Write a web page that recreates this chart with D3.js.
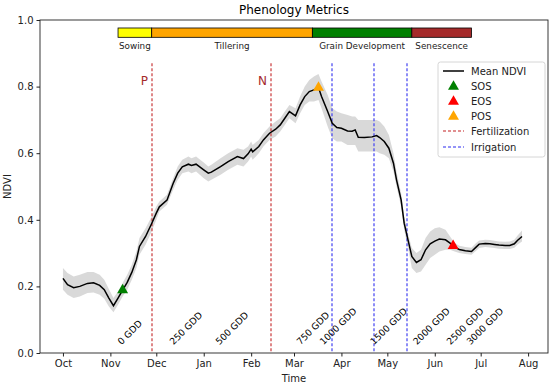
<!DOCTYPE html>
<html>
<head>
<meta charset="utf-8">
<script src="https://cdn.jsdelivr.net/npm/d3@7"></script>
<style>
body { margin: 0; background: #fff; }
svg text { font-family: "DejaVu Sans", sans-serif; }
</style>
</head>
<body>
<div id="chart"></div>
<script>
// NDVI series
var dates = ["2022-10-01","2022-10-04","2022-10-08","2022-10-12","2022-10-17","2022-10-21","2022-10-25","2022-10-28","2022-10-31","2022-11-03",
  "2022-11-06","2022-11-09","2022-11-12","2022-11-15","2022-11-18","2022-11-20","2022-11-24","2022-11-28","2022-12-01","2022-12-03",
  "2022-12-08","2022-12-12","2022-12-15","2022-12-18","2022-12-22","2022-12-24","2022-12-27","2023-01-01","2023-01-04","2023-01-06",
  "2023-01-12","2023-01-17","2023-01-23","2023-01-27","2023-01-30","2023-02-01","2023-02-02","2023-02-06","2023-02-09","2023-02-13",
  "2023-02-17","2023-02-20","2023-02-23","2023-02-26","2023-03-02","2023-03-05","2023-03-08","2023-03-11","2023-03-14","2023-03-17",
  "2023-03-19","2023-03-23","2023-03-26","2023-03-29","2023-04-01","2023-04-05","2023-04-08","2023-04-10","2023-04-12","2023-04-16",
  "2023-04-21","2023-04-24","2023-04-26","2023-04-29","2023-05-02","2023-05-05","2023-05-07","2023-05-10","2023-05-12","2023-05-15",
  "2023-05-17","2023-05-20","2023-05-23","2023-05-26","2023-05-29","2023-06-01","2023-06-04","2023-06-08","2023-06-11","2023-06-14",
  "2023-06-17","2023-06-21","2023-06-25","2023-06-28","2023-06-30","2023-07-04","2023-07-07","2023-07-10","2023-07-13","2023-07-17",
  "2023-07-20","2023-07-23","2023-07-25","2023-07-28"];
var ndviMean = [0.224,0.205,0.196,0.200,0.209,0.211,0.203,0.190,0.165,0.142,
  0.165,0.189,0.212,0.242,0.280,0.320,0.350,0.389,0.420,0.439,
  0.459,0.509,0.540,0.559,0.567,0.563,0.567,0.550,0.540,0.543,
  0.560,0.575,0.590,0.584,0.598,0.612,0.604,0.620,0.640,0.660,
  0.672,0.685,0.705,0.725,0.712,0.745,0.770,0.785,0.790,0.797,
  0.770,0.725,0.690,0.677,0.675,0.667,0.666,0.670,0.648,0.647,
  0.649,0.653,0.647,0.635,0.615,0.570,0.520,0.460,0.390,0.330,
  0.290,0.272,0.280,0.310,0.328,0.336,0.342,0.340,0.330,0.318,
  0.311,0.307,0.305,0.318,0.327,0.329,0.328,0.326,0.324,0.323,
  0.323,0.328,0.338,0.350];
var ndviLow = [0.190,0.175,0.165,0.170,0.180,0.182,0.175,0.163,0.140,0.122,
  0.145,0.170,0.190,0.220,0.255,0.295,0.325,0.365,0.400,0.425,
  0.445,0.490,0.520,0.540,0.545,0.540,0.545,0.525,0.515,0.520,
  0.535,0.550,0.565,0.560,0.575,0.590,0.580,0.600,0.620,0.640,
  0.650,0.665,0.685,0.705,0.690,0.720,0.745,0.755,0.755,0.760,
  0.735,0.680,0.645,0.635,0.635,0.625,0.625,0.625,0.605,0.605,
  0.605,0.605,0.600,0.595,0.585,0.545,0.500,0.440,0.370,0.305,
  0.255,0.240,0.245,0.265,0.285,0.295,0.305,0.310,0.310,0.305,
  0.300,0.297,0.295,0.307,0.315,0.318,0.317,0.315,0.313,0.312,
  0.312,0.316,0.325,0.335];
var ndviHigh = [0.255,0.240,0.230,0.235,0.243,0.243,0.235,0.220,0.192,0.165,
  0.185,0.210,0.235,0.265,0.305,0.345,0.375,0.410,0.440,0.455,
  0.475,0.525,0.560,0.580,0.590,0.585,0.590,0.572,0.560,0.565,
  0.585,0.600,0.615,0.610,0.620,0.635,0.625,0.640,0.660,0.680,
  0.695,0.705,0.725,0.745,0.735,0.770,0.800,0.820,0.830,0.838,
  0.815,0.775,0.735,0.725,0.720,0.715,0.710,0.710,0.700,0.700,
  0.700,0.700,0.695,0.680,0.655,0.600,0.545,0.480,0.410,0.350,
  0.315,0.300,0.310,0.345,0.365,0.375,0.378,0.370,0.350,0.330,
  0.322,0.318,0.316,0.330,0.338,0.340,0.339,0.337,0.335,0.334,
  0.335,0.340,0.352,0.368];

// phenology markers
var markerNames = ["SOS", "EOS", "POS"];
var markerDates = ["2022-11-09", "2023-06-13", "2023-03-17"];
var markerValues = [0.189, 0.322, 0.797];

// management events
var fertDates = ["2022-11-28", "2023-02-14"];
var fertLabels = ["P", "N"];
var irrigDates = ["2023-03-26", "2023-04-22", "2023-05-14"];

// growing degree days
var gddDates = ["2022-11-07","2022-12-11","2023-01-10","2023-03-04","2023-03-19","2023-04-21","2023-05-19","2023-06-10","2023-06-23"];
var gddLabels = ["0 GDD","250 GDD","500 GDD","750 GDD","1000 GDD","1500 GDD","2000 GDD","2500 GDD","3000 GDD"];

// growth stages
var phaseNames = ["Sowing", "Tillering", "Grain Development", "Senescence"];
var phaseStarts = ["2022-11-06", "2022-11-28", "2023-03-13", "2023-05-17"];
var phaseEnds = ["2022-11-28", "2023-03-13", "2023-05-17", "2023-06-25"];

var yTicks = [0.0, 0.2, 0.4, 0.6, 0.8, 1.0];

// styles
var phaseColors = ["#ffff00", "#ffa500", "#008000", "#a52a2a"];
var markerColors = ["#008000", "#ff0000", "#ffa500"];
var fertColor = "#c8383a";
var irrigColor = "#4040f0";

var width = 550;
var height = 386;
var plotLeft = 40, plotRight = 548, plotTop = 20, plotBottom = 353;

var parse = d3.timeParse("%Y-%m-%d");

var svg = d3.select("#chart")
  .append("svg")
  .attr("width", width)
  .attr("height", height);

var xScale = d3.scaleTime()
  .domain([new Date(2022, 8, 16), new Date(2023, 7, 14)])
  .range([plotLeft, plotRight]);
var yScale = d3.scaleLinear()
  .domain([0, 1])
  .range([plotBottom, plotTop]);

var series = dates.map(function(d, i) {
  return { date: parse(d), mean: ndviMean[i], lo: ndviLow[i], hi: ndviHigh[i] };
});

// shaded band
var area = d3.area()
  .x(function(d) { return xScale(d.date); })
  .y0(function(d) { return yScale(d.lo); })
  .y1(function(d) { return yScale(d.hi); });

svg.append("path")
  .datum(series)
  .attr("d", area)
  .attr("fill", "#808080")
  .attr("fill-opacity", 0.3);

// vertical event lines (wide enough to span two pixel columns)
var vTop = yScale(0.87);
fertDates.forEach(function(d, i) {
  var x = Math.round(xScale(parse(d)));
  svg.append("line")
    .attr("x1", x).attr("x2", x)
    .attr("y1", vTop).attr("y2", plotBottom)
    .attr("stroke", fertColor)
    .attr("stroke-opacity", 0.75)
    .attr("stroke-width", 1.6)
    .attr("stroke-dasharray", "3,2");
  svg.append("text")
    .attr("x", x - 4)
    .attr("y", yScale(0.805))
    .attr("text-anchor", "end")
    .attr("font-size", 12)
    .attr("fill", "#a52a2a")
    .text(fertLabels[i]);
});
irrigDates.forEach(function(d) {
  var x = Math.round(xScale(parse(d)));
  svg.append("line")
    .attr("x1", x).attr("x2", x)
    .attr("y1", vTop).attr("y2", plotBottom)
    .attr("stroke", irrigColor)
    .attr("stroke-opacity", 0.75)
    .attr("stroke-width", 1.6)
    .attr("stroke-dasharray", "3,2");
});

// mean line
var line = d3.line()
  .x(function(d) { return xScale(d.date); })
  .y(function(d) { return yScale(d.mean); });

svg.append("path")
  .datum(series)
  .attr("d", line)
  .attr("fill", "none")
  .attr("stroke", "#000")
  .attr("stroke-width", 1.5);

// markers
var tri = d3.symbol().type(d3.symbolTriangle).size(52);
markerNames.forEach(function(n, i) {
  svg.append("path")
    .attr("d", tri)
    .attr("transform", "translate(" + xScale(parse(markerDates[i])) + "," + yScale(markerValues[i]) + ")")
    .attr("fill", markerColors[i]);
});

// GDD labels
gddDates.forEach(function(d, i) {
  var x = xScale(parse(d));
  var y = yScale(0.02) - 1;
  svg.append("text")
    .attr("transform", "translate(" + (x + 2) + "," + y + ") rotate(-45)")
    .attr("font-size", 9.2)
    .attr("fill", "#000")
    .text(gddLabels[i]);
});

// growth stage bar
var barTop = yScale(0.976), barBot = yScale(0.948);
phaseNames.forEach(function(n, i) {
  var x0 = xScale(parse(phaseStarts[i]));
  var x1 = xScale(parse(phaseEnds[i]));
  svg.append("rect")
    .attr("x", x0).attr("y", barTop)
    .attr("width", x1 - x0).attr("height", barBot - barTop)
    .attr("fill", phaseColors[i])
    .attr("stroke", "#000")
    .attr("stroke-width", 0.8);
  svg.append("text")
    .attr("x", (x0 + x1) / 2)
    .attr("y", barBot + 12)
    .attr("text-anchor", "middle")
    .attr("font-size", 8.8)
    .attr("fill", "#222")
    .text(n);
});

// axes
var xAxis = d3.axisBottom(xScale)
  .ticks(d3.timeMonth.every(1))
  .tickFormat(d3.timeFormat("%b"))
  .tickSize(3.5)
  .tickPadding(3);
var yAxis = d3.axisLeft(yScale)
  .tickValues(yTicks)
  .tickFormat(d3.format(".1f"))
  .tickSize(3.5)
  .tickPadding(3);

var gx = svg.append("g")
  .attr("transform", "translate(0," + plotBottom + ")")
  .call(xAxis);
var gy = svg.append("g")
  .attr("transform", "translate(" + plotLeft + ",0)")
  .call(yAxis);
[gx, gy].forEach(function(g) {
  g.select(".domain").remove();
  g.selectAll("text").attr("font-size", 10).attr("font-family", "DejaVu Sans").attr("fill", "#222");
  g.selectAll("line").attr("stroke", "#222");
});

svg.append("rect")
  .attr("x", plotLeft).attr("y", plotTop)
  .attr("width", plotRight - plotLeft).attr("height", plotBottom - plotTop)
  .attr("fill", "none")
  .attr("stroke", "#222")
  .attr("stroke-width", 0.9);

// titles
svg.append("text")
  .attr("x", (plotLeft + plotRight) / 2)
  .attr("y", 14)
  .attr("text-anchor", "middle")
  .attr("font-size", 12)
  .attr("fill", "#000")
  .text("Phenology Metrics");
svg.append("text")
  .attr("x", (plotLeft + plotRight) / 2)
  .attr("y", 382)
  .attr("text-anchor", "middle")
  .attr("font-size", 10)
  .attr("fill", "#222")
  .text("Time");
svg.append("text")
  .attr("transform", "translate(11," + (plotTop + plotBottom) / 2 + ") rotate(-90)")
  .attr("text-anchor", "middle")
  .attr("font-size", 10)
  .attr("fill", "#222")
  .text("NDVI");

// legend
var lg = svg.append("g").attr("transform", "translate(438,62)");
lg.append("rect")
  .attr("width", 107).attr("height", 95)
  .attr("rx", 2.5)
  .attr("fill", "#fff").attr("fill-opacity", 0.85)
  .attr("stroke", "#ccc").attr("stroke-width", 0.8);
var legendItems = ["Mean NDVI", "SOS", "EOS", "POS", "Fertilization", "Irrigation"];
legendItems.forEach(function(name, i) {
  var y = Math.round(9 + i * 15.1);
  if (i === 0) {
    lg.append("line").attr("x1", 5).attr("x2", 26).attr("y1", y).attr("y2", y)
      .attr("stroke", "#000").attr("stroke-width", 1.5);
  } else if (i <= 3) {
    lg.append("path").attr("d", tri)
      .attr("transform", "translate(15.5," + (y + 0.5) + ")")
      .attr("fill", markerColors[i - 1]);
  } else {
    lg.append("line").attr("x1", 5).attr("x2", 26).attr("y1", y).attr("y2", y)
      .attr("stroke", i === 4 ? fertColor : irrigColor)
      .attr("stroke-opacity", 0.75)
      .attr("stroke-width", 1.6)
      .attr("stroke-dasharray", "3,2");
  }
  lg.append("text")
    .attr("x", 33).attr("y", y + 3.6)
    .attr("font-size", 10)
    .attr("fill", "#222")
    .text(name);
});
</script>
</body>
</html>
